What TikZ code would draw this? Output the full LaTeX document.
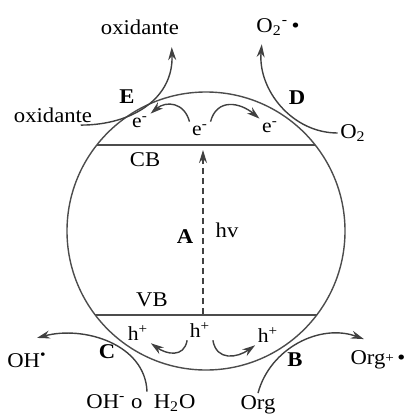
\documentclass[tikz,border=0pt]{standalone}
\usepackage{fontspec}
\setmainfont{Liberation Serif}[FakeStretch=1.08]
\usetikzlibrary{arrows.meta}

\begin{document}
\begin{tikzpicture}[x=0.5pt, y=-0.5pt, >={Stealth[length=6.5pt, width=4pt]}, line width=0.7pt,
    every node/.style={font=\fontsize{10.5}{12}\selectfont, inner sep=1pt},
    site/.style={font=\fontsize{10.5}{12}\selectfont\bfseries},
    carrier/.style={font=\fontsize{10}{12}\selectfont}]
   \useasboundingbox (0,0) rectangle (410,417);
   % particle and bands
   \draw[black!70] (206,231) circle[radius=69.5pt];
   \draw[black!70] (97,145) -- (315,145);
   \draw[black!70] (95,315) -- (317,315);
   \node (cb) at (145,160) {CB};
   \node (vb) at (152,300) {VB};
   \draw[->, densely dashed, black!75] (203,314) -- (203,150);
   \node[site] (a) at (185,237) {A};
   \node (hv) at (227,230) {hv};
   % species
   \node (ox_top) at (140,27) {oxidante};
   \node (ox_left) at (53,115) {oxidante};
   \node (o2_rad) at (278,27) {O\textsubscript{2}\textsuperscript{-}\,\textbullet};
   \node (o2) at (353,133) {O\textsubscript{2}};
   \node (oh_rad) at (27,360) {OH\textsuperscript{\textbullet}};
   \node (water) at (141,403) {OH\textsuperscript{-} o\ \ H\textsubscript{2}O};
   \node (org) at (258,405) {Org};
   \node (org_rad) at (378,360) {Org\raisebox{0.2ex}{\scriptsize +}\,\textbullet};
   % sites
   \node[site] (e) at (127,97) {E};
   \node[site] (d) at (297,98) {D};
   \node[site] (c) at (107,352) {C};
   \node[site] (b) at (295,360) {B};
   % carriers
   \node[carrier] (e_l) at (140,122) {e\textsuperscript{-}};
   \node[carrier] (e_c) at (200,130) {e\textsuperscript{-}};
   \node[carrier] (e_r) at (270,127) {e\textsuperscript{-}};
   \node[carrier] (h_l) at (138,333) {h\textsuperscript{+}};
   \node[carrier] (h_c) at (200,330) {h\textsuperscript{+}};
   \node[carrier] (h_r) at (268,335) {h\textsuperscript{+}};
   \path[->, black!75]
    (e_c.north west) edge [out=105, in=40, looseness=1.3] (e_l.north east)
    (e_c.north east) edge [out=75, in=140, looseness=1.3] (e_r.north west)
    (h_c.south west) edge [out=-100, in=-35, looseness=1.3] (h_l.south east)
    (h_c.south east) edge [out=-80, in=-145, looseness=1.3] (h_r.south west)
    ([xshift=-7pt]ox_left.south east) edge [out=0, in=-88, looseness=1.1] ([xshift=-5pt, yshift=-5pt]ox_top.south east)
    (o2.west) edge [out=180, in=-95] ([xshift=4pt, yshift=-3pt]o2_rad.south west)
    ([xshift=3pt]water.north) edge [out=92, in=15] ([xshift=5pt, yshift=6pt]oh_rad.north)
    (org.north) edge [out=75, in=160] ([xshift=8pt, yshift=4.5pt]org_rad.north west)
    ;
\end{tikzpicture}
\end{document}
